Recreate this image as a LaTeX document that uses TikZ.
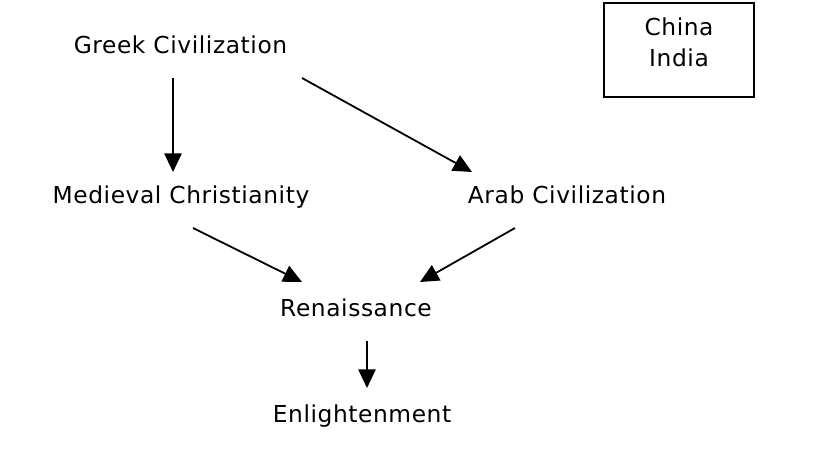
\documentclass[tikz,border=0pt]{standalone}
\usepackage{fontspec}
\setmainfont[LetterSpace=2.5]{DejaVu Sans}
\usetikzlibrary{arrows.meta}
\begin{document}
\begin{tikzpicture}[x=0.75pt,y=-0.75pt,
  lbl/.style={anchor=base,inner sep=0pt,font=\fontsize{17.5}{20}\selectfont},
  arr/.style={line width=1.35pt,-{Triangle[length=14pt,width=13pt]}},
  boxed/.style={draw,line width=1.35pt}]
\useasboundingbox (0,0) rectangle (819,454);
\node[lbl] (greek) at (180.5,53) {Greek Civilization};
\node[lbl] (medieval) at (181,203) {Medieval Christianity};
\node[lbl] (arab) at (567,203) {Arab Civilization};
\node[lbl] (ren) at (356,316) {Renaissance};
\node[lbl] (enl) at (362,422) {Enlightenment};
\node[lbl] (china) at (679,35) {China};
\node[lbl] (india) at (679,66) {India};
\node[boxed,minimum width=150*0.75pt,minimum height=94*0.75pt,inner sep=0pt] (box) at (679,50.3) {};
\coordinate (g1) at (173,78);
\coordinate (m1) at (173,172);
\coordinate (g2) at (302,78);
\coordinate (a1) at (472,172);
\coordinate (m2) at (193,228);
\coordinate (r1) at (302,282);
\coordinate (a2) at (515,228);
\coordinate (r2) at (420,282);
\coordinate (r3) at (367,341);
\coordinate (e1) at (367,388);
\draw[arr] (g1) -- (m1);
\draw[arr] (g2) -- (a1);
\draw[arr] (m2) -- (r1);
\draw[arr] (a2) -- (r2);
\draw[arr] (r3) -- (e1);
\end{tikzpicture}
\end{document}
